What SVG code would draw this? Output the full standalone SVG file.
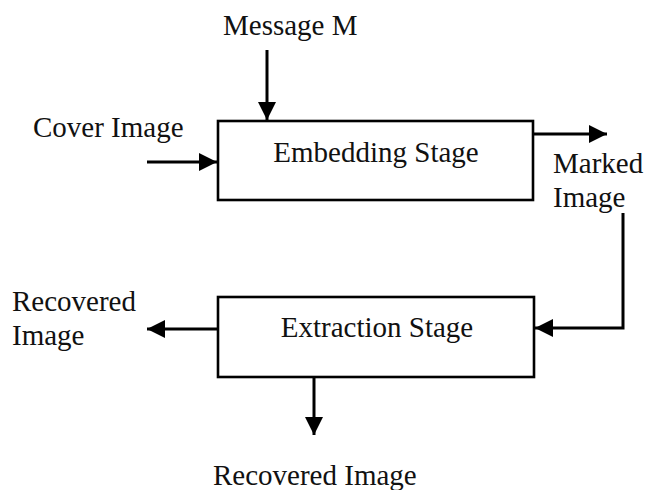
<svg xmlns="http://www.w3.org/2000/svg" width="645" height="490" viewBox="0 0 645 490">
  <style>
    .box { fill: #ffffff; stroke: #000000; stroke-width: 2.6; }
    .lbl { font-family: 'Liberation Serif', 'Times New Roman', Times, serif; font-size: 29px; fill: #111111; }
    .wire { fill: none; stroke: #000000; stroke-width: 3; marker-end: url(#head); }
  </style>
  <defs>
    <marker id="head" markerUnits="userSpaceOnUse" markerWidth="20" markerHeight="18" refX="18" refY="9" orient="auto">
      <path d="M0,0 L18,9 L0,18 Z" fill="#000000"/>
    </marker>
  </defs>
  <rect width="645" height="490" fill="#ffffff"/>

  <!-- connectors -->
  <g id="connectors">
    <line class="wire" x1="267" y1="50" x2="267" y2="120"/>
    <line class="wire" x1="147" y1="162" x2="217" y2="162"/>
    <line class="wire" x1="534" y1="134" x2="607" y2="134"/>
    <polyline class="wire" points="623,213 623,328 535,328"/>
    <line class="wire" x1="218" y1="329" x2="147" y2="329"/>
    <line class="wire" x1="314" y1="378" x2="314" y2="435"/>
  </g>

  <!-- embedding stage -->
  <g id="embedding">
    <rect class="box" x="218" y="121" width="315" height="79"/>
    <text class="lbl" x="376" y="162" text-anchor="middle">Embedding Stage</text>
  </g>

  <!-- extraction stage -->
  <g id="extraction">
    <rect class="box" x="218" y="297" width="316" height="80"/>
    <text class="lbl" x="377" y="337" text-anchor="middle">Extraction Stage</text>
  </g>

  <!-- free labels -->
  <g id="message">
    <text class="lbl" x="223" y="35">Message M</text>
  </g>
  <g id="cover">
    <text class="lbl" x="33" y="137">Cover Image</text>
  </g>
  <g id="marked">
    <text class="lbl" x="553" y="173">Marked</text>
    <text class="lbl" x="553" y="207">Image</text>
  </g>
  <g id="recovered-left">
    <text class="lbl" x="12" y="311">Recovered</text>
    <text class="lbl" x="12" y="345">Image</text>
  </g>
  <g id="recovered-bottom">
    <text class="lbl" x="213" y="485">Recovered Image</text>
  </g>
</svg>
